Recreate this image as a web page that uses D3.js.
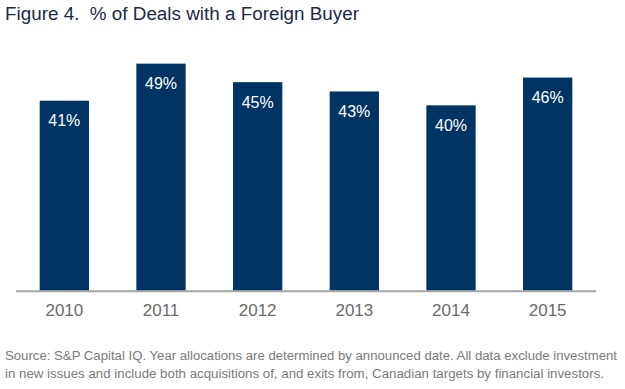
<!DOCTYPE html>
<html><head><meta charset="utf-8">
<script src="https://cdn.jsdelivr.net/npm/d3@7"></script>
<style>body{margin:0;background:#fff}svg{display:block}text{white-space:pre}</style>
</head><body>
<script>
const years = ["2010","2011","2012","2013","2014","2015"];
const values = [41,49,45,43,40,46];
const title = "Figure 4.  % of Deals with a Foreign Buyer";
const notes = ["Source: S&P Capital IQ. Year allocations are determined by announced date. All data exclude investment",
               "in new issues and include both acquisitions of, and exits from, Canadian targets by financial investors."];

const W=625,H=389;
const svg=d3.select("body").append("svg").attr("width",W).attr("height",H);
const x=d3.scaleBand().domain(years).range([16,596]).paddingInner(0.49).paddingOuter(0.245);
const y=d3.scaleLinear().domain([0,50]).range([290.7,59]);

svg.append("text").attr("x",5).attr("y",20).attr("font-family","Liberation Sans, Arial, sans-serif")
  .attr("font-size",18).attr("fill","#1c2a45").attr("textLength",354).attr("lengthAdjust","spacingAndGlyphs").text(title);

svg.selectAll("rect.bar").data(values).join("rect").attr("class","bar")
  .attr("x",(d,i)=>x(years[i])).attr("width",x.bandwidth())
  .attr("y",d=>y(d)).attr("height",d=>y(0)-y(d)).attr("fill","#003462");

svg.selectAll("text.lbl").data(values).join("text").attr("class","lbl")
  .attr("x",(d,i)=>x(years[i])+x.bandwidth()/2).attr("y",d=>y(d)+25.5)
  .attr("text-anchor","middle").attr("font-family","Liberation Sans, Arial, sans-serif")
  .attr("font-size",16).attr("fill","#fff").text(d=>d+"%");

const ax=svg.append("g").attr("transform",`translate(0,${y(0)})`)
  .call(d3.axisBottom(x).tickSize(0).tickPadding(13));
ax.select(".domain").attr("stroke","#a6a6a6").attr("stroke-width",2).attr("d","M16,0.5H596");
ax.selectAll("text").attr("font-family","Liberation Sans, Arial, sans-serif").attr("font-size",17).attr("fill","#6b6b6b");

const nl=[612,599];
notes.forEach((t,i)=>{
  svg.append("text").attr("x",5).attr("y",360+i*18).attr("font-family","Liberation Sans Narrow, Liberation Sans, Arial, sans-serif")
    .attr("font-size",12.5).attr("fill","#7a7a7a").attr("textLength",nl[i]).attr("lengthAdjust","spacingAndGlyphs").text(t);
});
</script>
</body></html>
